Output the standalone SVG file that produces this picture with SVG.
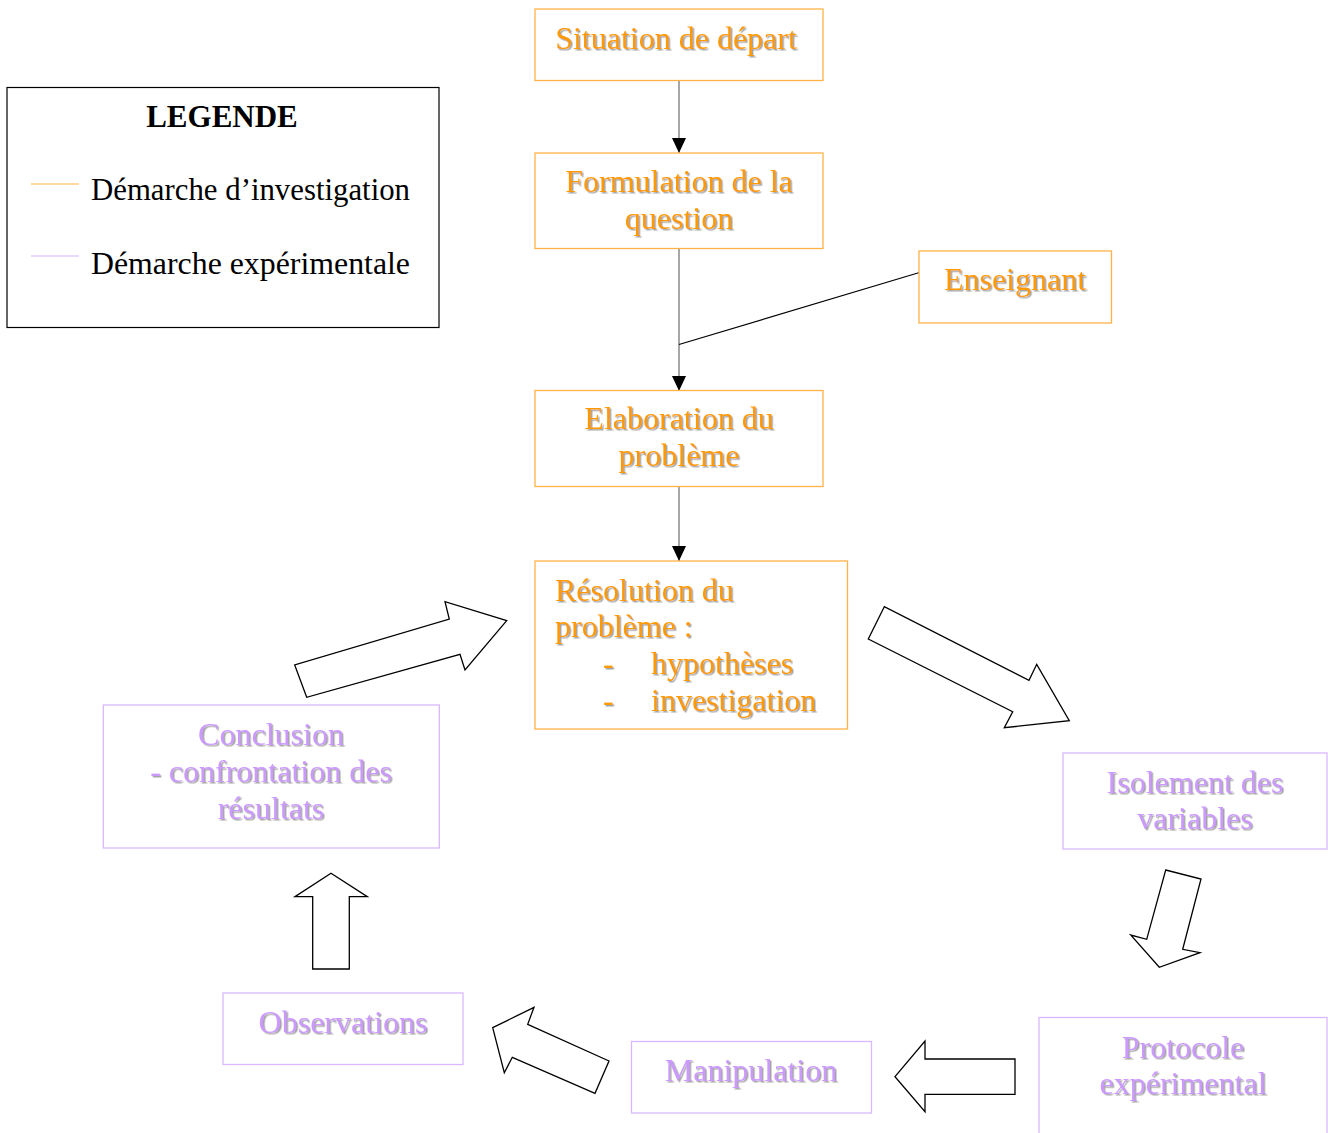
<svg xmlns="http://www.w3.org/2000/svg" width="1328" height="1133" viewBox="0 0 1328 1133">
<style>
text{font-family:"Liberation Serif","Times New Roman",serif;}
.box-o{fill:#fff;stroke:#FFB347;stroke-width:1.3;}
.box-p{fill:#fff;stroke:#D9B8FF;stroke-width:1.3;}
.t-o{fill:#FF9900;font-size:32px;filter:url(#sh);}
.t-p{fill:#CC99FF;font-size:32px;filter:url(#sh);}
.c{text-anchor:middle;}
.leg{fill:#000;font-size:31px;}
.conn{stroke:#777;stroke-width:1.3;fill:none;}
.conn-b{stroke:#000;stroke-width:1.2;fill:none;}
.blk{fill:#fff;stroke:#000;stroke-width:1.3;stroke-linejoin:miter;}
</style>
<defs>
<filter id="sh" x="-5%" y="-20%" width="115%" height="150%">
<feDropShadow dx="1.5" dy="1.5" stdDeviation="0.4" flood-color="#9a9a9a" flood-opacity="0.9"/>
</filter>
<marker id="ah" markerUnits="userSpaceOnUse" markerWidth="15" markerHeight="14" refX="15" refY="7" orient="auto" viewBox="0 0 15 14">
<path d="M0,0 L15,7 L0,14 z" fill="#000"/>
</marker>
</defs>

<g id="legend">
<rect x="7" y="87.5" width="432" height="240" fill="#fff" stroke="#000" stroke-width="1.2"/>
<text x="222" y="127" class="c" style="font-size:31px;font-weight:bold;">LEGENDE</text>
<line x1="31" y1="184" x2="79" y2="184" stroke="#FFCC80" stroke-width="1.5"/>
<text x="91" y="200" class="leg" textLength="319" lengthAdjust="spacingAndGlyphs">Démarche d’investigation</text>
<line x1="31" y1="256" x2="79" y2="256" stroke="#E0CCFF" stroke-width="1.5"/>
<text x="91" y="274" class="leg" textLength="319" lengthAdjust="spacingAndGlyphs">Démarche expérimentale</text>
</g>

<g id="connectors">
<line class="conn" x1="679" y1="81" x2="679" y2="153" marker-end="url(#ah)"/>
<line class="conn" x1="679" y1="249" x2="679" y2="391" marker-end="url(#ah)"/>
<line class="conn-b" x1="919.5" y1="272.5" x2="679" y2="344.5"/>
<line class="conn" x1="679" y1="487" x2="679" y2="561" marker-end="url(#ah)"/>
<polygon class="blk" points="294.7,665 306.7,697.3 460,654.3 465,670 506.7,620.7 445,601.7 449.3,619"/>
<polygon class="blk" points="884.3,606.7 868.3,639 1012.7,711.7 1004.3,727.7 1069.3,720.7 1036.7,664.3 1029,680.3"/>
<polygon class="blk" points="1165.7,870 1201,879 1182.7,949.3 1200,952.7 1159.3,967.3 1130.7,935 1146.7,939.3"/>
<polygon class="blk" points="895,1076.7 925,1041 925,1059 1015,1059 1015,1094.3 925,1094.3 925,1111.7"/>
<polygon class="blk" points="492.7,1027.7 534,1007.3 527.7,1024.3 609,1061 595,1093.3 512.3,1057.3 504.3,1072.7"/>
<polygon class="blk" points="331,873.3 367.3,896.7 349.3,896.7 349.3,969 312.7,969 312.7,896.7 295,896.7"/>
</g>

<g id="situation">
<rect class="box-o" x="535" y="9" width="288" height="71.5"/>
<text class="t-o c" x="676" y="49">Situation de départ</text>
</g>

<g id="formulation">
<rect class="box-o" x="535" y="153" width="288" height="95.5"/>
<text class="t-o c" x="679" y="192">Formulation de la</text>
<text class="t-o c" x="679" y="229">question</text>
</g>

<g id="enseignant">
<rect class="box-o" x="919" y="251" width="192.5" height="72"/>
<text class="t-o c" x="1015" y="290">Enseignant</text>
</g>

<g id="elaboration">
<rect class="box-o" x="535" y="390.5" width="288" height="96"/>
<text class="t-o c" x="679" y="429">Elaboration du</text>
<text class="t-o c" x="679" y="466">problème</text>
</g>

<g id="resolution">
<rect class="box-o" x="535" y="561" width="312.5" height="168"/>
<text class="t-o" x="555" y="601">Résolution du</text>
<text class="t-o" x="555" y="637">problème :</text>
<text class="t-o" x="603" y="674">-</text>
<text class="t-o" x="651" y="674">hypothèses</text>
<text class="t-o" x="603" y="710.5">-</text>
<text class="t-o" x="651" y="710.5">investigation</text>
</g>

<g id="isolement">
<rect class="box-p" x="1063" y="753" width="264" height="96"/>
<text class="t-p c" x="1195" y="793">Isolement des</text>
<text class="t-p c" x="1195" y="829">variables</text>
</g>

<g id="protocole">
<rect class="box-p" x="1039" y="1017.5" width="288" height="120"/>
<text class="t-p c" x="1183" y="1058">Protocole</text>
<text class="t-p c" x="1183" y="1094">expérimental</text>
</g>

<g id="manipulation">
<rect class="box-p" x="631.5" y="1041.5" width="240" height="71.5"/>
<text class="t-p c" x="751" y="1081">Manipulation</text>
</g>

<g id="observations">
<rect class="box-p" x="223" y="993" width="240" height="71.5"/>
<text class="t-p c" x="343" y="1033">Observations</text>
</g>

<g id="conclusion">
<rect class="box-p" x="103.3" y="705" width="336" height="143"/>
<text class="t-p c" x="271" y="745">Conclusion</text>
<text class="t-p c" x="271" y="782">- confrontation des</text>
<text class="t-p c" x="271" y="819">résultats</text>
</g>
</svg>
